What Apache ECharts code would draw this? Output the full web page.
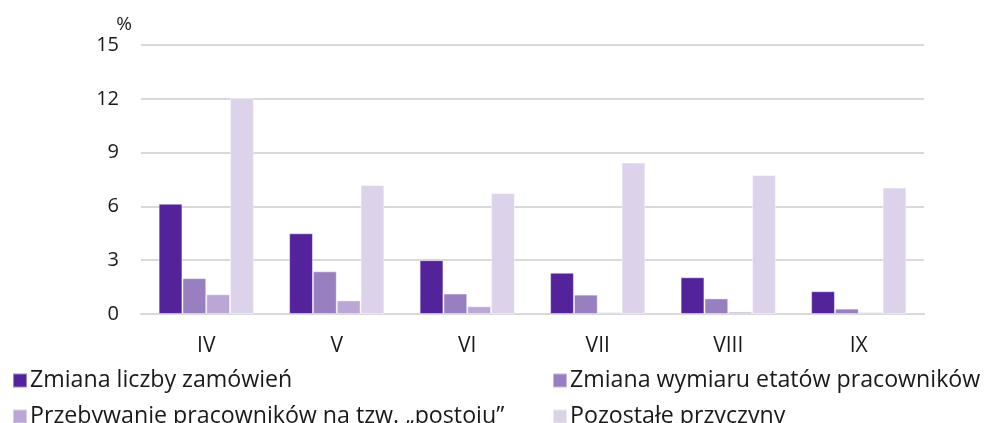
<!DOCTYPE html>
<html>
<head>
<meta charset="utf-8">
<script src="https://cdn.jsdelivr.net/npm/echarts@6/dist/echarts.min.js"></script>
<style>
html,body{margin:0;padding:0;background:#fff;}
#chart{width:984px;height:423px;}
</style>
</head>
<body>
<div id="chart"></div>
<script>
var categories = ['IV', 'V', 'VI', 'VII', 'VIII', 'IX'];
var seriesNames = [
  'Zmiana liczby zamówień',
  'Zmiana wymiaru etatów pracowników',
  'Przebywanie pracowników na tzw. „postoju”',
  'Pozostałe przyczyny'
];
var zamowienia = [6.15, 4.5, 3.0, 2.3, 2.05, 1.27];
var etaty = [2.0, 2.38, 1.14, 1.08, 0.87, 0.3];
var postoj = [1.1, 0.76, 0.43, 0.1, 0.13, 0.1];
var pozostale = [12.05, 7.2, 6.75, 8.45, 7.75, 7.05];
var yTicks = [0, 3, 6, 9, 12, 15];
var colors = ['#52239a', '#987fc0', '#bba6d6', '#dcd3ea'];

var FONT = 'Open Sans';
var values = [zamowienia, etaty, postoj, pozostale];

function legendFor(i, left, top) {
  return {
    data: [seriesNames[i]],
    left: left, top: top, padding: 0,
    itemWidth: 14, itemHeight: 14, itemGap: 0,
    icon: 'rect',
    textStyle: {fontFamily: FONT, fontSize: 23.2, color: '#1a1a1a', padding: [0, 0, 0, -2]},
    selectedMode: false
  };
}

var chart = echarts.init(document.getElementById('chart'), null, {renderer: 'canvas'});
chart.setOption({
  animation: false,
  color: colors,
  textStyle: {fontFamily: FONT},
  grid: {left: 141, right: 60, top: 45, bottom: 109, containLabel: false},
  legend: [
    legendFor(0, 12, 369),
    legendFor(1, 552, 369),
    legendFor(2, 12, 405),
    legendFor(3, 552, 405)
  ],
  xAxis: {
    type: 'category',
    data: categories,
    axisLine: {show: true, lineStyle: {color: '#d9d9d9', width: 2}},
    axisTick: {show: false},
    axisLabel: {fontFamily: FONT, fontSize: 21, color: '#1a1a1a', margin: 22}
  },
  yAxis: {
    type: 'value',
    min: 0, max: 15, interval: 3,
    name: '%',
    nameLocation: 'end',
    nameGap: 11,
    nameTextStyle: {fontFamily: FONT, fontSize: 19, color: '#1a1a1a', padding: [0, 34, 0, 0]},
    axisLine: {show: false},
    axisTick: {show: false},
    splitLine: {lineStyle: {color: '#d9d9d9', width: 2}},
    axisLabel: {
      fontFamily: FONT, fontSize: 20, color: '#1a1a1a', margin: 22,
      formatter: function (v) { return yTicks.indexOf(v) >= 0 ? String(v) : ''; }
    }
  },
  series: values.map(function (vals, i) {
    return {
      name: seriesNames[i],
      type: 'bar',
      data: vals,
      barGap: '0%',
      barCategoryGap: '27%',
      itemStyle: {color: colors[i], borderColor: 'rgba(255,255,255,0.45)', borderWidth: 1}
    };
  })
});
</script>
</body>
</html>
